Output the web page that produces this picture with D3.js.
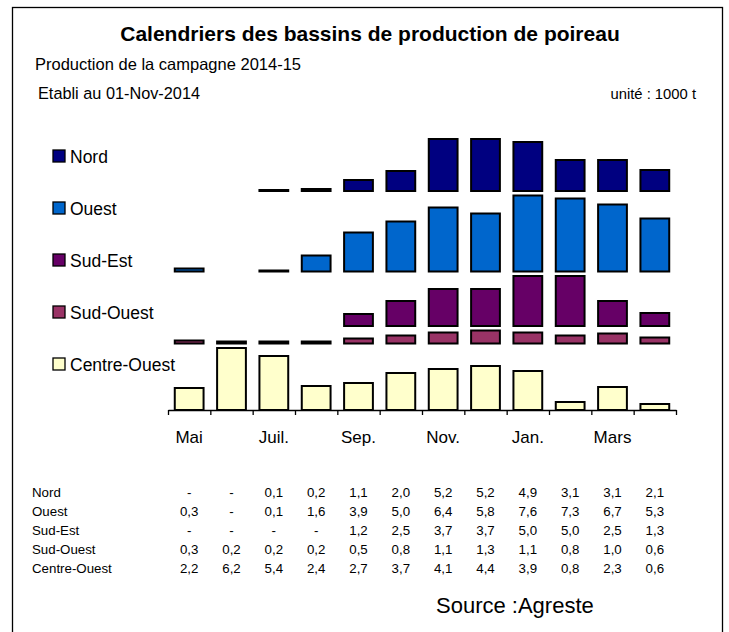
<!DOCTYPE html>
<html>
<head>
<meta charset="utf-8">
<script src="https://cdn.jsdelivr.net/npm/d3@7"></script>
<style>
    body { margin: 0; background: #fff; }
    svg text { font-family: "Liberation Sans", Arial, sans-serif; fill: #000; }
</style>
</head>
<body>
<div id="visual"></div>
<script>
// Production data, unit 1000 t (null = "-")
var months = ["Mai", "Juin", "Juil.", "Août", "Sep.", "Oct.", "Nov.", "Déc.", "Jan.", "Févr.", "Mars", "Avr."];
var shownMonths = ["Mai", "Juil.", "Sep.", "Nov.", "Jan.", "Mars"];
var regions = ["Nord", "Ouest", "Sud-Est", "Sud-Ouest", "Centre-Ouest"];

var nord = [null, null, 0.1, 0.2, 1.1, 2.0, 5.2, 5.2, 4.9, 3.1, 3.1, 2.1];
var ouest = [0.3, null, 0.1, 1.6, 3.9, 5.0, 6.4, 5.8, 7.6, 7.3, 6.7, 5.3];
var sudEst = [null, null, null, null, 1.2, 2.5, 3.7, 3.7, 5.0, 5.0, 2.5, 1.3];
var sudOuest = [0.3, 0.2, 0.2, 0.2, 0.5, 0.8, 1.1, 1.3, 1.1, 0.8, 1.0, 0.6];
var centreOuest = [2.2, 6.2, 5.4, 2.4, 2.7, 3.7, 4.1, 4.4, 3.9, 0.8, 2.3, 0.6];

var colors = ["#000080", "#0066cc", "#660066", "#993366", "#ffffcc"];

function chart() {
    var w = 729, h = 632;
    var series = [nord, ouest, sudEst, sudOuest, centreOuest];

    var svg = d3.select("#visual").append("svg").attr("width", w).attr("height", h);

    // frame
    svg.append("rect")
        .attr("x", 12.5).attr("y", 7.5)
        .attr("width", 710).attr("height", 640)
        .attr("fill", "none").attr("stroke", "#000").attr("stroke-width", 1.3);

    svg.append("text").attr("x", 370).attr("y", 41)
        .attr("text-anchor", "middle").attr("font-size", "21px").attr("font-weight", "bold")
        .text("Calendriers des bassins de production de poireau");
    svg.append("text").attr("x", 35).attr("y", 70).attr("font-size", "16.5px")
        .text("Production de la campagne 2014-15");
    svg.append("text").attr("x", 38).attr("y", 99).attr("font-size", "16.3px")
        .text("Etabli au 01-Nov-2014");
    svg.append("text").attr("x", 696).attr("y", 99).attr("text-anchor", "end").attr("font-size", "14.8px")
        .text("unité : 1000 t");

    var xScale = d3.scaleBand()
        .domain(months)
        .range([168, 676]);

    var yScale = d3.scaleLinear()
        .domain([0, 23])
        .range([410, 180]);

    // each region sits on its own baseline: stacked from the bottom, gap above the highest bar
    var gap = 0.45;
    var base = [];
    var acc = 0;
    for (var i = series.length - 1; i >= 0; i--) {
        base[i] = acc;
        acc += d3.max(series[i]) + gap;
    }

    var barW = xScale.bandwidth() * 0.68;

    series.forEach(function (values, s) {
        var pts = values.map(function (v, i) { return { m: months[i], v: v }; })
            .filter(function (d) { return d.v !== null; });
        svg.append("g").attr("class", "bars")
            .selectAll("rect")
            .data(pts)
            .enter()
            .append("rect")
            .attr("x", function (d) { return xScale(d.m) + (xScale.bandwidth() - barW) / 2; })
            .attr("y", function (d) { return yScale(base[s] + d.v); })
            .attr("width", barW)
            .attr("height", function (d) { return yScale(base[s]) - yScale(base[s] + d.v); })
            .attr("fill", colors[s])
            .attr("stroke", "#000")
            .attr("stroke-width", 2);
    });

    // axis: ticks at band boundaries
    var idx = d3.scaleLinear().domain([0, months.length]).range(xScale.range());
    svg.append("g")
        .attr("transform", "translate(0," + yScale(0) + ")")
        .call(d3.axisBottom(idx).tickValues(d3.range(months.length + 1)).tickFormat("").tickSize(5).tickSizeOuter(0))
        .call(function (g) {
            g.selectAll("line").attr("stroke", "#000").attr("stroke-width", 1.3);
            g.select(".domain").attr("stroke", "#000").attr("stroke-width", 1.3);
        });

    svg.append("g")
        .attr("transform", "translate(0," + yScale(0) + ")")
        .call(d3.axisBottom(xScale).tickValues(shownMonths).tickSize(0).tickPadding(21))
        .call(function (g) {
            g.select(".domain").remove();
            g.selectAll("text").attr("font-size", "17px")
                .attr("font-family", "Liberation Sans, Arial, sans-serif").attr("fill", "#000");
        });

    // legend
    var legend = svg.append("g").selectAll("g")
        .data(regions)
        .enter()
        .append("g")
        .attr("transform", function (d, i) { return "translate(53," + (150 + i * 52) + ")"; });
    legend.append("rect")
        .attr("width", 12).attr("height", 12)
        .attr("fill", function (d, i) { return colors[i]; })
        .attr("stroke", "#000").attr("stroke-width", 1.3);
    legend.append("text")
        .attr("x", 17).attr("y", 12.5)
        .attr("font-size", "17.5px")
        .text(function (d) { return d; });

    // data table
    var fmt = function (v) { return v === null ? "-" : d3.format(".1f")(v).replace(".", ","); };
    var rows = svg.append("g").selectAll("g")
        .data(series)
        .enter()
        .append("g")
        .attr("transform", function (d, i) { return "translate(0," + (497 + i * 19) + ")"; });
    rows.append("text")
        .attr("x", 32)
        .attr("font-size", "13.3px")
        .text(function (d, i) { return regions[i]; });
    rows.selectAll("text.val")
        .data(function (d) { return d; })
        .enter()
        .append("text")
        .attr("class", "val")
        .attr("x", function (d, i) { return xScale(months[i]) + xScale.bandwidth() / 2; })
        .attr("text-anchor", "middle")
        .attr("font-size", "13.3px")
        .text(fmt);

    svg.append("text").attr("x", 436).attr("y", 613)
        .attr("font-size", "22px")
        .text("Source :Agreste");
}

chart();
</script>
</body>
</html>
